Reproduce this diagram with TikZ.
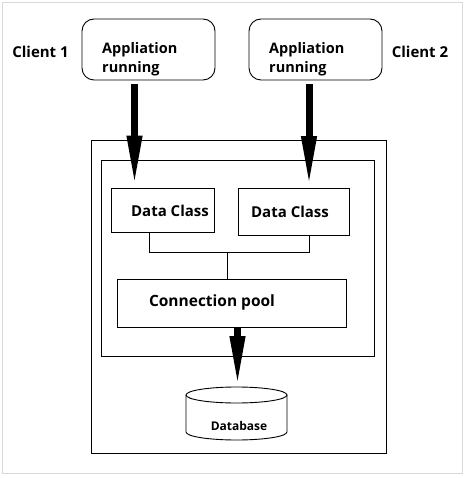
\documentclass[tikz,border=0pt]{standalone}
\usepackage{fontspec}
\setmainfont{Open Sans}
\usetikzlibrary{arrows.meta,calc}
\begin{document}
\begin{tikzpicture}[x=1pt,y=-1pt,
  lbl/.style={font=\bfseries\fontsize{14.5}{19}\selectfont, inner sep=0pt},
  clbl/.style={font=\bfseries\fontsize{15}{19}\selectfont, inner sep=0pt},
  smlbl/.style={font=\bfseries\fontsize{15}{16}\selectfont, inner sep=0pt},
  dblbl/.style={font=\bfseries\fontsize{12}{14}\selectfont, inner sep=0pt},
  frame/.style={draw, line width=0.9pt},
  bigarrow/.style={line width=7pt, -{Triangle[length=51pt,width=14pt]}},
  conn/.style={line width=0.7pt}]
\useasboundingbox (0,0) rectangle (465,478);
\draw[gray!30, line width=1.2pt] (2.7,2.7) rectangle (462.5,473.7);
% clients
\node[frame, rounded corners=12pt, minimum width=133pt, minimum height=61pt] (app1) at (148.5,49.5) {};
\node[frame, rounded corners=12pt, minimum width=133pt, minimum height=61pt] (app2) at (315.5,49.5) {};
\node[lbl, anchor=west, align=left] (t1) at (102,59.5) {Appliation\\running};
\node[lbl, anchor=west, align=left] (t2) at (269,59.5) {Appliation\\running};
\node[clbl] (c1) at (40.5,52) {Client 1};
\node[clbl] (c2) at (420,52) {Client 2};
% outer and inner boxes
\node[frame, minimum width=295pt, minimum height=313pt] (outer) at (238.5,296.5) {};
\node[frame, minimum width=273pt, minimum height=196pt] (inner) at (237.5,258) {};
% data classes
\node[frame, minimum width=103pt, minimum height=44pt] (dc1) at (162.5,210) {};
\node[frame, minimum width=111pt, minimum height=47pt] (dc2) at (293.5,211.5) {};
\node[smlbl] (dt1) at (170,211) {Data Class};
\node[smlbl] (dt2) at (290,212) {Data Class};
% connection pool
\node[frame, minimum width=229pt, minimum height=48pt] (pool) at (231.5,303) {};
\node[lbl, font=\bfseries\fontsize{15.5}{19}\selectfont] (pt) at (212,302) {Connection pool};
% database
\coordinate (dbtop) at (236.5,387);
\draw[line width=0.9pt, fill=white] (186,395) -- (186,432) arc[start angle=180, end angle=0, x radius=50.5, y radius=8] -- (287,395);
\draw[line width=0.9pt] (236.5,395) ellipse[x radius=50.5, y radius=8];
\node[dblbl] (db) at (239,426) {Database};
% connectors
\coordinate (a1s) at ($(app1.south)+(-14,4)$);
\coordinate (a1e) at ($(dc1.north)+(-28,-1)$);
\draw[bigarrow] (a1s) -- (a1e);
\coordinate (a2s) at ($(app2.south)+(-6.5,4)$);
\coordinate (a2e) at ($(dc2.north)+(15.5,-0.5)$);
\draw[bigarrow] (a2s) -- (a2e);
\coordinate (a3s) at ($(pool.south)+(6,0)$);
\draw[bigarrow] (a3s) -- (a3s |- dbtop);
\coordinate (j1) at ($(dc1.south west)+(39,0)$);
\coordinate (j2) at ($(dc2.south west)+(72,0)$);
\draw[conn] (j1) -- (j1 |- 0,252) -- (j2 |- 0,252) -- (j2);
\draw[conn] (227,252) -- (pool.north -| 227,0);
\end{tikzpicture}
\end{document}
